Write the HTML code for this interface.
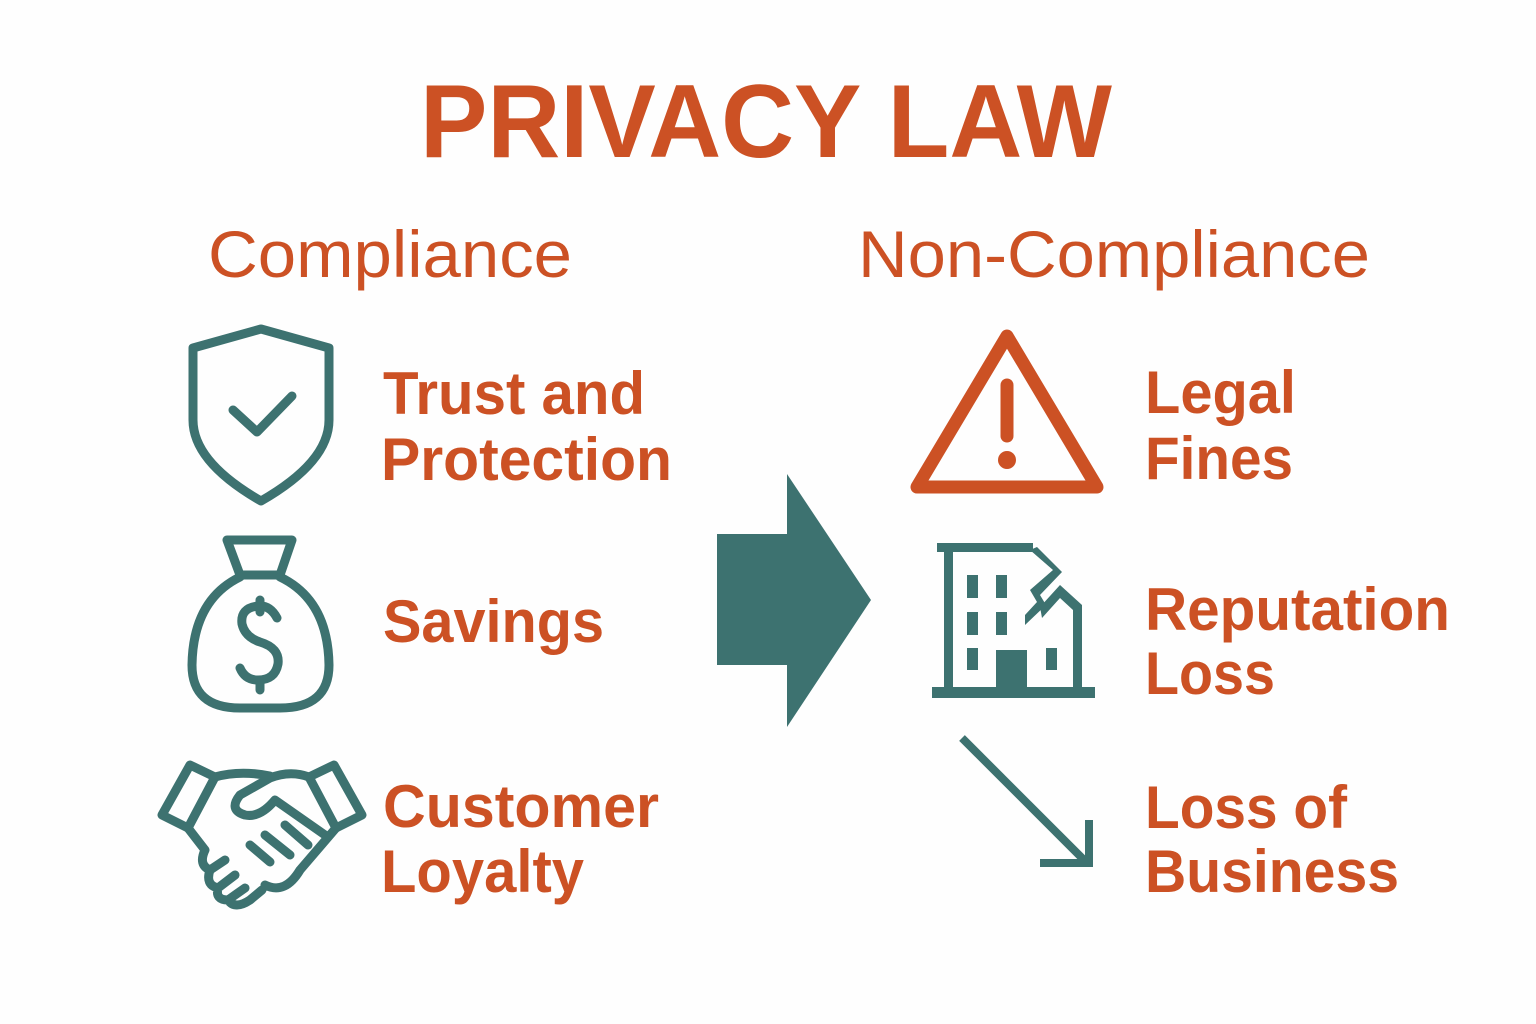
<!DOCTYPE html>
<html><head><meta charset="utf-8"><style>
html,body{margin:0;padding:0;background:#fefefe;}
svg{display:block}
text{font-family:"Liberation Sans",Arial,sans-serif;fill:#cc5124;}
</style></head><body>
<svg width="1536" height="1024" viewBox="0 0 1536 1024" xmlns="http://www.w3.org/2000/svg">
<rect width="1536" height="1024" fill="#fefefe"/>
<text x="420" y="157" font-size="104" font-weight="bold" textLength="692" lengthAdjust="spacingAndGlyphs">PRIVACY LAW</text>
<text x="208" y="277" font-size="66" textLength="364" lengthAdjust="spacingAndGlyphs">Compliance</text>
<text x="858" y="277" font-size="66" textLength="512" lengthAdjust="spacingAndGlyphs">Non-Compliance</text>
<g font-size="60" font-weight="bold">
<text x="383" y="414" textLength="262" lengthAdjust="spacingAndGlyphs">Trust and</text>
<text x="381" y="480" textLength="291" lengthAdjust="spacingAndGlyphs">Protection</text>
<text x="383" y="642" textLength="221" lengthAdjust="spacingAndGlyphs">Savings</text>
<text x="383" y="827" textLength="276" lengthAdjust="spacingAndGlyphs">Customer</text>
<text x="381" y="892" textLength="203" lengthAdjust="spacingAndGlyphs">Loyalty</text>
<text x="1145" y="413" textLength="151" lengthAdjust="spacingAndGlyphs">Legal</text>
<text x="1145" y="479" textLength="148" lengthAdjust="spacingAndGlyphs">Fines</text>
<text x="1145" y="630" textLength="305" lengthAdjust="spacingAndGlyphs">Reputation</text>
<text x="1145" y="694" textLength="130" lengthAdjust="spacingAndGlyphs">Loss</text>
<text x="1145" y="828" textLength="202" lengthAdjust="spacingAndGlyphs">Loss of</text>
<text x="1145" y="892" textLength="254" lengthAdjust="spacingAndGlyphs">Business</text>
</g>
<g fill="none" stroke="#3d7270" stroke-width="9" stroke-linejoin="round" stroke-linecap="round">
<!-- shield -->
<path d="M193 348 L261 329 L329 348 L329 420 Q329 462 261 501 Q193 462 193 420 Z"/>
<path d="M233 410 L257 432 L292 396"/>
<!-- money bag -->
<path d="M227 540 L292 540 L280 575 L240 575 Z"/>
<path d="M240 577 Q193 600 192 665 Q192 708 240 708 L280 708 Q329 708 329 665 Q328 600 280 577"/>
<path d="M277 618 Q270 605 258 606 Q240 608 242 624 Q245 637 260 642 Q280 648 278 664 Q275 680 258 680 Q245 680 240 668"/>
<path d="M260 600 L260 612 M260 680 L260 690"/>
<!-- handshake -->
<path d="M162 815 L190 765 L215 777 L188 828 Z"/>
<path d="M362 815 L334 765 L309 777 L336 828 Z"/>
<path d="M215 777 Q240 770 270 776 M309 777 Q290 770 270 778 L240 795 Q228 810 245 815 Q260 818 275 800 L325 835"/>
<path d="M188 828 L205 850 M336 828 L300 870 Q285 895 265 885 M205 850 Q198 865 210 870 L225 860 M210 870 Q205 885 218 888 L235 875 M218 888 Q215 900 228 900 L245 888 M228 900 Q235 910 250 900 L262 890"/>
<path d="M250 845 L270 862 M265 835 L290 855 M285 825 L308 845"/>
</g>
<!-- big arrow -->
<polygon points="717,534 787,534 787,474 871,600 787,727 787,665 717,665" fill="#3d7270"/>
<!-- warning triangle -->
<g fill="none" stroke="#cc5124" stroke-width="13" stroke-linejoin="round" stroke-linecap="round">
<path d="M1007 336 L917 487 L1097 487 Z"/>
<path d="M1007 385 L1007 436"/>
</g>
<circle cx="1007" cy="460" r="9" fill="#cc5124"/>
<!-- building -->
<g fill="#3d7270">
<rect x="937" y="543" width="96" height="9"/>
<rect x="944" y="543" width="9" height="150"/>
<rect x="932" y="687" width="163" height="11"/>
<polygon points="1030,550 1053,570 1030,590 1037,602 1025,615 1025,625 1046,605 1040,595 1062,572 1052,562 1037,547"/>
<polygon points="1060,585 1082,605 1082,690 1073,690 1073,610 1060,598 1042,618 1040,607"/>
<rect x="967" y="575" width="11" height="23"/><rect x="996" y="575" width="11" height="23"/>
<rect x="967" y="612" width="11" height="23"/><rect x="996" y="612" width="11" height="23"/>
<rect x="967" y="648" width="11" height="22"/><rect x="1046" y="648" width="11" height="22"/>
<rect x="996" y="650" width="31" height="40"/>
</g>
<!-- down arrow -->
<g fill="none" stroke="#3d7270" stroke-width="8">
<path d="M962 738 L1087 863"/>
<path d="M1040 863 L1089 863 L1089 820"/>
</g>
</svg>
</body></html>
